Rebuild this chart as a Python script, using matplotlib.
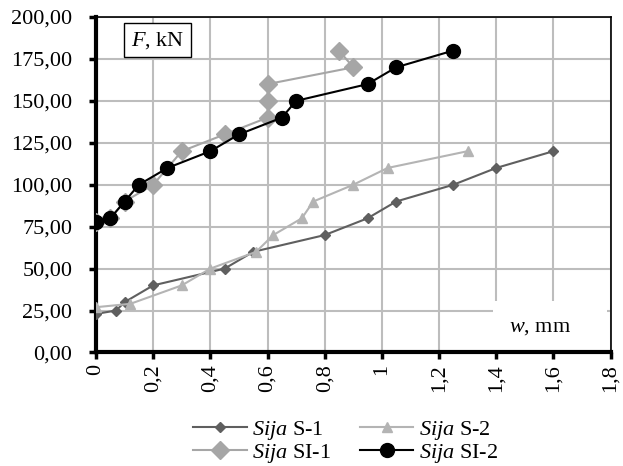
import matplotlib
matplotlib.use("Agg")
import matplotlib.pyplot as plt
from matplotlib.patches import Rectangle

plt.rcParams['font.family'] = ['Liberation Serif', 'DejaVu Serif']
plt.rcParams['mathtext.fontset'] = 'custom'
plt.rcParams['mathtext.rm'] = 'Liberation Serif'
plt.rcParams['mathtext.it'] = 'Liberation Serif:italic'

# deflection w (mm) and load F (kN) per specimen
s1_w = [0, 0.07, 0.10, 0.20, 0.45, 0.55, 0.80, 0.95, 1.05, 1.25, 1.40, 1.60]
s1_f = [23, 25, 30, 40, 50, 60, 70, 80, 90, 100, 110, 120]
s2_w = [0, 0.12, 0.30, 0.40, 0.56, 0.62, 0.72, 0.76, 0.90, 1.02, 1.30]
s2_f = [27, 29, 40, 50, 60, 70, 80, 90, 100, 110, 120]
si1_w = [0, 0.05, 0.10, 0.20, 0.30, 0.45, 0.60, 0.60, 0.60, 0.90, 0.85]
si1_f = [78, 80, 90, 100, 120, 130, 140, 150, 160, 170, 180]
si2_w = [0, 0.05, 0.10, 0.15, 0.25, 0.40, 0.50, 0.65, 0.70, 0.95, 1.05, 1.25]
si2_f = [78, 80, 90, 100, 110, 120, 130, 140, 150, 160, 170, 180]

xticks = [0, 0.2, 0.4, 0.6, 0.8, 1, 1.2, 1.4, 1.6, 1.8]
xlabels = ['0', '0,2', '0,4', '0,6', '0,8', '1', '1,2', '1,4', '1,6', '1,8']
yticks = [0, 25, 50, 75, 100, 125, 150, 175, 200]

fig = plt.figure(figsize=(6.23, 4.66), dpi=100)
ax = fig.add_axes([0.1541, 0.2436, 0.8259, 0.7199])

l1, = ax.plot(s1_w, s1_f, color='#5f5f5f', lw=1.5, marker='D', ms=5, label=r'$\mathit{Sija}$ S-1', zorder=3)
l2, = ax.plot(s2_w, s2_f, color='#b4b4b4', lw=1.5, marker='^', ms=7, label=r'$\mathit{Sija}$ S-2', zorder=3)
l3, = ax.plot(si1_w, si1_f, color='#a6a6a6', lw=1.5, marker='D', ms=9, label=r'$\mathit{Sija}$ SI-1', zorder=3)
l4, = ax.plot(si2_w, si2_f, color='black', lw=1.5, marker='o', ms=10, label=r'$\mathit{Sija}$ SI-2', zorder=4)

ax.set_xlim(0, 1.8)
ax.set_ylim(0, 200)
ax.set_xticks(xticks)
ax.set_xticklabels(xlabels, rotation=90)
ax.set_yticks(yticks)
ax.set_yticklabels([('%.2f' % v).replace('.', ',') for v in yticks])
ax.tick_params(labelsize=16, length=5, width=2.5, direction='out')
ax.tick_params(axis='y', pad=12)

ax.grid(True, color='#bdbdbd', lw=1.5)
ax.set_axisbelow(True)
for side in ['left', 'bottom']:
    ax.spines[side].set_linewidth(3)
for side in ['top', 'right']:
    ax.spines[side].set_linewidth(1.2)

ax.add_patch(Rectangle((0.772, 0.004), 0.2216, 0.148, transform=ax.transAxes,
                       facecolor='white', edgecolor='none', zorder=1.5))
ax.text(0.863, 0.073, r'$\mathit{w}$, mm', transform=ax.transAxes, fontsize=16,
        ha='center', va='center', zorder=2)
ax.text(0.119, 0.931, r'$\mathit{F}$, kN', transform=ax.transAxes, fontsize=16,
        ha='center', va='center', zorder=5,
        bbox=dict(facecolor='white', edgecolor='black', lw=1, boxstyle='square,pad=0.3'))

# matplotlib fills legend columns first, so order as S-1, SI-1, S-2, SI-2
fig.legend([l1, l3, l2, l4], [l1.get_label(), l3.get_label(), l2.get_label(), l4.get_label()],
           loc='lower center', bbox_to_anchor=(0.555, -0.04), ncol=2, frameon=False,
           fontsize=16, handlelength=2.4, columnspacing=1.3, labelspacing=0.0,
           handletextpad=0.25)

fig.savefig('out.png', dpi=100)
